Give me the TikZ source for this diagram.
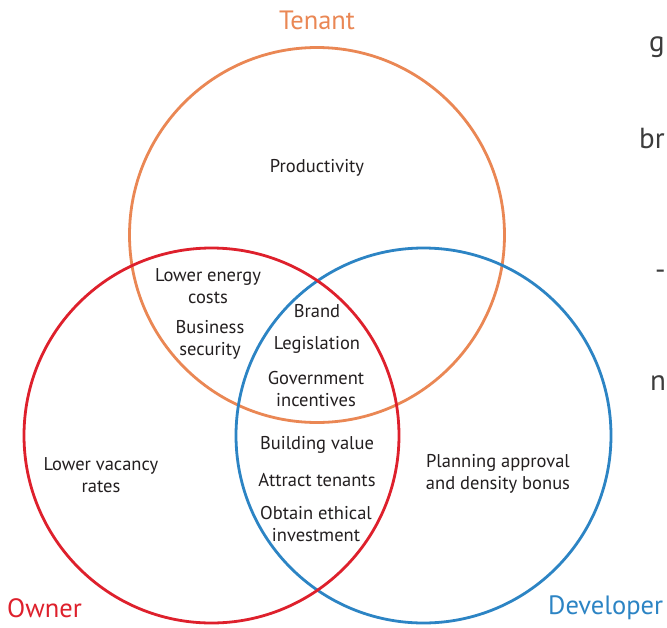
\documentclass[tikz,border=0pt]{standalone}
\usepackage{fontspec}
\setmainfont{PT Sans}
\definecolor{tenantc}{RGB}{234,135,84}
\definecolor{ownerc}{RGB}{222,32,44}
\definecolor{devc}{RGB}{44,132,196}
\definecolor{txt}{RGB}{35,31,32}
\definecolor{sidetxt}{RGB}{60,60,60}
\tikzset{
  ring/.style={circle, draw, line width=2.8pt, minimum size=375pt, inner sep=0pt},
  item/.style={text=txt, font=\fontsize{18.5}{22}\selectfont, align=center, inner sep=0pt},
  title/.style={font=\fontsize{26.5}{28}\selectfont, inner sep=0pt},
  side/.style={text=sidetxt, font=\fontsize{29}{32}\selectfont, inner sep=0pt, anchor=west}
}
\begin{document}
\begin{tikzpicture}[x=1pt,y=-1pt]
\useasboundingbox (0,0) rectangle (667,627);
\fill[white] (0,0) rectangle (667,627);
% circles
\node[ring, draw=tenantc] (tenant) at (317,235) {};
\node[ring, draw=devc] (developer) at (423.5,435.5) {};
\node[ring, draw=ownerc] (owner) at (211.5,435.5) {};
% titles
\node[title, text=tenantc] (tt) at (317,20) {Tenant};
\node[title, text=ownerc, anchor=west] (to) at (7,608) {Owner};
\node[title, text=devc, anchor=west] (td) at (548,608) {Developer};
% items
\node[item] (prod) at (317,168) {Productivity};
\node[item] (energy) at (208,286) {Lower energy\\costs};
\node[item] (business) at (210,340) {Business\\security};
\node[item] (brand) at (317,311) {Brand};
\node[item] (legis) at (317,345) {Legislation};
\node[item] (gov) at (316,389) {Government\\incentives};
\node[item] (bval) at (317,445) {Building value};
\node[item] (attract) at (317,480) {Attract tenants};
\node[item] (ethical) at (316,524) {Obtain ethical\\investment};
\node[item] (vacancy) at (101,475) {Lower vacancy\\rates};
\node[item] (planning) at (498,474) {Planning approval\\and density bonus};
% cut-off text at right edge
\node[side] (s1) at (649,47) {g};
\node[side] (s2) at (639,138) {br};
\node[side] (s3) at (655,275) {-};
\node[side] (s4) at (650,383) {n};
\end{tikzpicture}
\end{document}
